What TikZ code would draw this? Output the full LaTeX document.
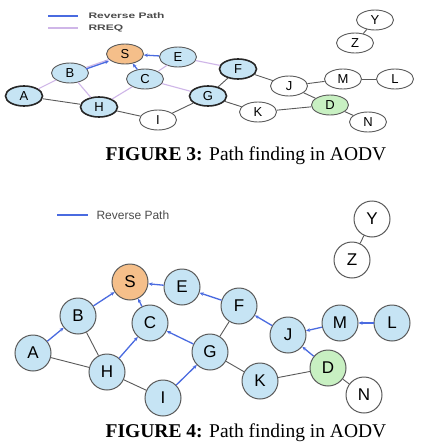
\documentclass[tikz,border=0pt]{standalone}
\usepackage{fontspec}
\setmainfont{Liberation Serif}
\newfontfamily\nodefont{Liberation Sans}
\usetikzlibrary{shapes.geometric,arrows.meta}
\definecolor{nodeblue}{HTML}{C6E4F4}
\definecolor{srcorange}{HTML}{F5BF8A}
\definecolor{dstgreen}{HTML}{C8F0C2}
\definecolor{revblue}{HTML}{4A6BE0}
\definecolor{rreqpurple}{HTML}{CFB6E8}
\definecolor{edgegray}{HTML}{5A5A5A}
\tikzset{
  tnode/.style={ellipse,draw=gray!70!black,line width=0.9pt,minimum width=37pt,minimum height=20pt,inner sep=0pt,font=\nodefont\fontsize{13}{13}\selectfont},
  tbold/.style={tnode,draw=black!85,line width=1.6pt},
  bnode/.style={circle,draw=edgegray,line width=1pt,minimum size=36pt,inner sep=0pt,fill=nodeblue,font=\nodefont\fontsize{17}{17}\selectfont},
  rev/.style={draw=revblue,line width=1.3pt,-{Stealth[length=4pt,width=3.5pt]}},
  rreq/.style={draw=rreqpurple,line width=1.1pt},
  plain/.style={draw=edgegray,line width=0.9pt},
  legtext/.style={anchor=west,text=black!70,font=\nodefont\fontsize{11}{11}\selectfont},
  caption/.style={font=\fontsize{19.5}{20}\selectfont}
}
\begin{document}
\begin{tikzpicture}[x=1pt,y=-1pt]
  \useasboundingbox[fill=white] (0,0) rectangle (422,444);
  % ---- figure 3 ----
  \coordinate (tl1a) at (48,16); \coordinate (tl1b) at (78,16);
  \coordinate (tl2a) at (48,28); \coordinate (tl2b) at (78,28);
  \draw[revblue,line width=1.3pt] (tl1a) -- (tl1b);
  \draw[rreq] (tl2a) -- (tl2b);
  \node[legtext,font=\nodefont\bfseries\fontsize{10}{10}\selectfont] (tlegrev) at (85,16) {\scalebox{1.2}[0.8]{Reverse Path}};
  \node[legtext,font=\nodefont\bfseries\fontsize{10}{10}\selectfont] (tlegrreq) at (85,28) {\scalebox{1.2}[0.8]{RREQ}};
  \node[tnode] (tY) at (375,20) {Y};
  \node[tnode] (tZ) at (355,43) {Z};
  \node[tnode,fill=srcorange] (tS) at (125,54) {S};
  \node[tnode,fill=nodeblue] (tE) at (178,57) {E};
  \node[tnode,fill=nodeblue] (tB) at (70,73) {B};
  \node[tnode,fill=nodeblue] (tC) at (145,79) {C};
  \node[tbold,fill=nodeblue] (tF) at (238,69) {F};
  \node[tnode] (tJ) at (289,86) {J};
  \node[tnode] (tM) at (343,79) {M};
  \node[tnode] (tL) at (395,79) {L};
  \node[tbold,fill=nodeblue] (tA) at (24,96) {A};
  \node[tbold,fill=nodeblue] (tG) at (208,96) {G};
  \node[tbold,fill=nodeblue] (tH) at (99,107) {H};
  \node[tnode,fill=dstgreen] (tD) at (330,105) {D};
  \node[tnode] (tK) at (258,112) {K};
  \node[tnode] (tI) at (158,120) {I};
  \node[tnode] (tN) at (368,122) {N};
  \draw[rreq] (tA) -- (tB);
  \draw[rreq] (tB) -- (tS);
  \draw[rreq,transform canvas={xshift=1.5pt}] (tE) -- (tC);
  \draw[rreq] (tE) -- (tF);
  \draw[rreq] (tB) -- (tH);
  \draw[rreq] (tH) -- (tC);
  \draw[rreq] (tC) -- (tG);
  \draw[rev,transform canvas={yshift=-1.5pt}] (tB) -- (tS);
  \draw[rev] (tE) -- (tS);
  \draw[rev] (tC) -- (tS);
  \draw[plain] (tA) -- (tH);
  \draw[plain] (tH) -- (tI);
  \draw[plain] (tI) -- (tG);
  \draw[plain] (tG) -- (tF);
  \draw[plain] (tF) -- (tJ);
  \draw[plain] (tJ) -- (tM);
  \draw[plain] (tM) -- (tL);
  \draw[plain] (tJ) -- (tD);
  \draw[plain] (tG) -- (tK);
  \draw[plain] (tK) -- (tD);
  \draw[plain] (tD) -- (tN);
  \draw[plain] (tY) -- (tZ);
  \node[caption] (cap3) at (246,156) {\textbf{FIGURE 3:} Path finding in AODV};
  % ---- figure 4 ----
  \coordinate (bl1a) at (57,215); \coordinate (bl1b) at (88,215);
  \draw[revblue,line width=1.3pt] (bl1a) -- (bl1b);
  \node[legtext,font=\nodefont\fontsize{12}{12}\selectfont] (blegrev) at (93,215) {Reverse Path};
  \node[bnode,fill=white] (bY) at (372,219) {Y};
  \node[bnode,fill=white] (bZ) at (352,260) {Z};
  \node[bnode,fill=srcorange] (bS) at (130,282) {S};
  \node[bnode] (bE) at (182,287) {E};
  \node[bnode] (bB) at (78,316) {B};
  \node[bnode] (bF) at (239,306) {F};
  \node[bnode] (bC) at (150,323) {C};
  \node[bnode] (bM) at (340,323) {M};
  \node[bnode] (bL) at (392,323) {L};
  \node[bnode] (bJ) at (288,335) {J};
  \node[bnode] (bA) at (33,353) {A};
  \node[bnode] (bG) at (210,352) {G};
  \node[bnode,fill=dstgreen] (bD) at (328,368) {D};
  \node[bnode] (bH) at (107,372) {H};
  \node[bnode] (bK) at (260,381) {K};
  \node[bnode] (bI) at (163,398) {I};
  \node[bnode,fill=white] (bN) at (364,395) {N};
  \draw[rev] (bA) -- (bB);
  \draw[rev] (bB) -- (bS);
  \draw[rev] (bE) -- (bS);
  \draw[rev] (bC) -- (bS);
  \draw[rev] (bH) -- (bC);
  \draw[rev] (bG) -- (bC);
  \draw[rev] (bI) -- (bG);
  \draw[rev] (bF) -- (bE);
  \draw[rev] (bJ) -- (bF);
  \draw[rev] (bM) -- (bJ);
  \draw[rev] (bL) -- (bM);
  \draw[rev] (bD) -- (bJ);
  \draw[plain] (bB) -- (bH);
  \draw[plain] (bA) -- (bH);
  \draw[plain] (bH) -- (bI);
  \draw[plain] (bG) -- (bF);
  \draw[plain] (bG) -- (bK);
  \draw[plain] (bK) -- (bD);
  \draw[plain] (bD) -- (bN);
  \draw[plain] (bY) -- (bZ);
  \node[caption] (cap4) at (246,433) {\textbf{FIGURE 4:} Path finding in AODV};
\end{tikzpicture}
\end{document}
